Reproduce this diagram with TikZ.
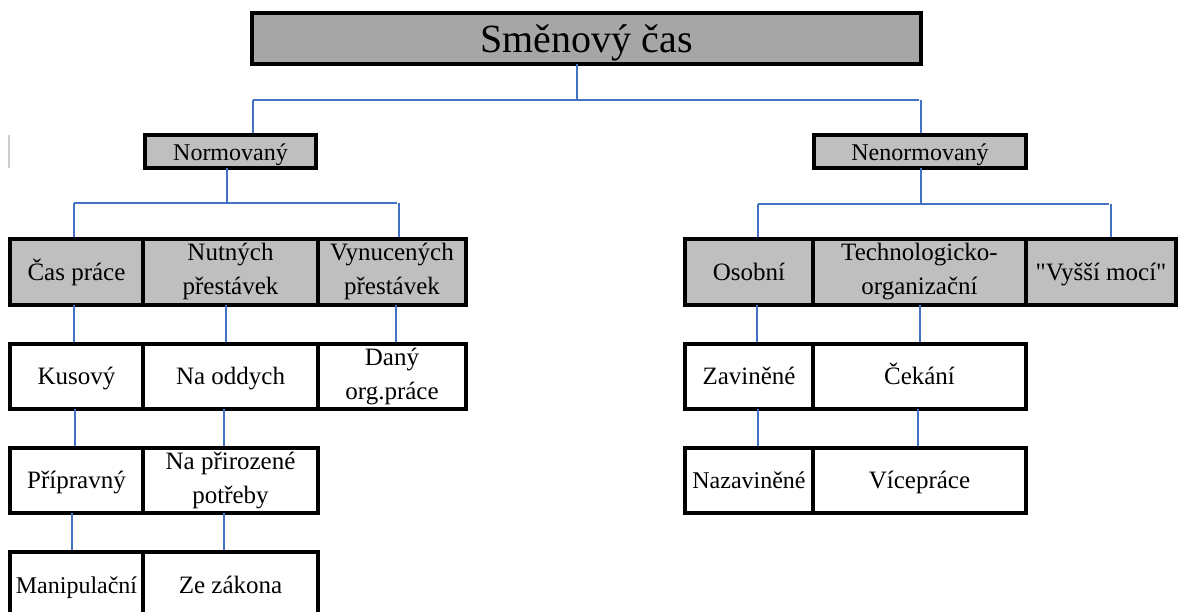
\documentclass[tikz,border=0pt]{standalone}
\usepackage{fontspec}
\setmainfont{Liberation Serif}
\usepackage{tikz}

\definecolor{linkblue}{HTML}{4472C4}
\definecolor{boxgray}{HTML}{BFBFBF}
\definecolor{titlegray}{HTML}{A6A6A6}

% invisible rule that fixes the height and depth of a text line
\newcommand{\linestrut}[2]{\rule[-#2]{0pt}{\dimexpr#1+#2\relax}}

\begin{document}
\begin{tikzpicture}[x=1pt, y=-1pt,
        box/.style={draw=black, line width=3.5pt, inner sep=0pt, outer sep=0pt,
            align=center, font=\fontsize{25}{34}\selectfont,
            execute at begin node={\linestrut{23pt}{6pt}},
            execute at end node={\linestrut{23pt}{6pt}}},
        grey/.style={box, fill=boxgray},
        head/.style={grey, minimum height=33pt, font=\fontsize{24}{30}\selectfont,
            execute at begin node={\linestrut{24pt}{6pt}},
            execute at end node={\linestrut{24pt}{6pt}}},
        link/.style={draw=linkblue, line width=1.4pt, shorten >=2pt}]
        \useasboundingbox (0, 0) rectangle (1179, 612);
        \clip (0, 0) rectangle (1179, 612);

        % title
        \node [box, fill=titlegray, minimum width=669pt, minimum height=51pt,
            font=\fontsize{40}{50}\selectfont,
            execute at begin node={\linestrut{38pt}{9pt}},
            execute at end node={\linestrut{38pt}{9pt}}] (title) at (586.5, 38.5) {Směnový čas};
        \node [head, minimum width=171pt] (norm) at (230.5, 151.5) {Normovaný};
        \node [head, minimum width=212pt] (nenorm) at (920, 151.5) {Nenormovaný};

        % left branch
        \node [grey, minimum width=133pt, minimum height=66pt] (cas) at (76.5, 272) {Čas práce};
        \node [grey, minimum width=175pt, minimum height=66pt] (nut) at (230.5, 272) {Nutných\\přestávek};
        \node [grey, minimum width=148pt, minimum height=66pt] (vyn) at (392, 272) {Vynucených\\přestávek};
        \node [box, minimum width=133pt, minimum height=65pt] (kus) at (76.5, 376.5) {Kusový};
        \node [box, minimum width=175pt, minimum height=65pt] (odd) at (230.5, 376.5) {Na oddych};
        \node [box, minimum width=148pt, minimum height=65pt] (dan) at (392, 376.5) {Daný\\org.práce};
        \node [box, minimum width=133pt, minimum height=65pt] (pri) at (76.5, 480.5) {Přípravný};
        \node [box, minimum width=175pt, minimum height=65pt] (prir) at (230.5, 480.5) {Na přirozené\\potřeby};
        \node [box, minimum width=133pt, minimum height=66pt,
            font=\fontsize{24}{34}\selectfont] (man) at (76.5, 585) {Manipulační};
        \node [box, minimum width=175pt, minimum height=66pt] (zak) at (230.5, 585) {Ze zákona};

        % right branch
        \node [grey, minimum width=128pt, minimum height=66pt] (oso) at (749, 272) {Osobní};
        \node [grey, minimum width=213pt, minimum height=66pt] (tech) at (919.5, 272) {Technologicko-\\organizační};
        \node [grey, minimum width=150pt, minimum height=66pt] (vys) at (1101, 272) {\textquotedbl Vyšší mocí\textquotedbl};
        \node [box, minimum width=128pt, minimum height=65pt] (zav) at (749, 376.5) {Zaviněné};
        \node [box, minimum width=213pt, minimum height=65pt] (cek) at (919.5, 376.5) {Čekání};
        \node [box, minimum width=128pt, minimum height=65pt,
            font=\fontsize{24}{34}\selectfont] (naz) at (749, 480.5) {Nazaviněné};
        \node [box, minimum width=213pt, minimum height=65pt] (vic) at (919.5, 480.5) {Vícepráce};

        \draw [gray!40, line width=2pt] (9, 135) -- (9, 168);

        % bus lines
        \coordinate (tbus) at (577, 99);
        \coordinate (tl) at (253, 100);
        \coordinate (tr) at (921, 100);
        \draw [link, shorten >=0pt] (title.south -| tbus) -- (tbus);
        \draw [link] (tl) -- (tr);
        \draw [link] (tl) -- (norm.north -| tl);
        \draw [link] (tr) -- (nenorm.north -| tr);

        \coordinate (nbus) at (227, 203);
        \coordinate (nl) at (74, 203);
        \coordinate (nr) at (399, 203);
        \draw [link, shorten >=0pt] (norm.south -| nbus) -- (nbus);
        \draw [link] (nl) -- (nr);
        \draw [link] (nl) -- (cas.north -| nl);
        \draw [link] (nr) -- (vyn.north -| nr);

        \coordinate (rbus) at (921, 203);
        \coordinate (rl) at (758, 204);
        \coordinate (rr) at (1111, 204);
        \draw [link, shorten >=0pt] (nenorm.south -| rbus) -- (rbus);
        \draw [link] (rl) -- (rr);
        \draw [link] (rl) -- (oso.north -| rl);
        \draw [link] (rr) -- (vys.north -| rr);

        % vertical links
        \draw [link] ([xshift=-2.5pt]cas.south) -- ([xshift=-2.5pt]kus.north);
        \draw [link] ([xshift=-4.5pt]nut.south) -- ([xshift=-4.5pt]odd.north);
        \draw [link] ([xshift=4pt]vyn.south) -- ([xshift=4pt]dan.north);
        \draw [link] ([xshift=-1.5pt]kus.south) -- ([xshift=-1.5pt]pri.north);
        \draw [link] ([xshift=-6.5pt]odd.south) -- ([xshift=-6.5pt]prir.north);
        \draw [link] ([xshift=-4.5pt]pri.south) -- ([xshift=-4.5pt]man.north);
        \draw [link] ([xshift=-6.5pt]prir.south) -- ([xshift=-6.5pt]zak.north);
        \draw [link] ([xshift=8pt]oso.south) -- ([xshift=8pt]zav.north);
        \draw [link] ([xshift=0.5pt]tech.south) -- ([xshift=0.5pt]cek.north);
        \draw [link] ([xshift=9pt]zav.south) -- ([xshift=9pt]naz.north);
        \draw [link] ([xshift=-1.5pt]cek.south) -- ([xshift=-1.5pt]vic.north);
\end{tikzpicture}
\end{document}
